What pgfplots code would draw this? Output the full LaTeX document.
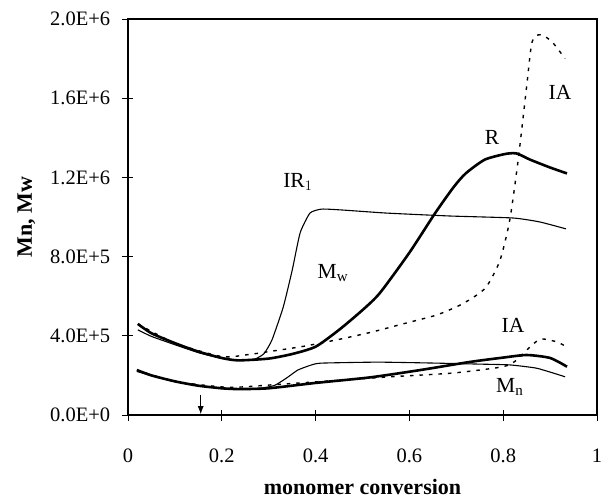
\documentclass[border=0pt]{standalone}
\usepackage{fontspec}
\setmainfont{Liberation Serif}
\usepackage{pgfplots}
\pgfplotsset{compat=1.18}
\usetikzlibrary{arrows.meta}

\begin{document}
\fontsize{21.5}{25}\selectfont
\begin{tikzpicture}[x=1pt,y=1pt]
\begin{axis}[
  at={(0,0)}, anchor=south west,
  scale only axis, width=469pt, height=396pt,
  xmin=0, xmax=1, ymin=0, ymax=2.0e6,
  axis line style={line width=1.3pt},
  xtick={0,0.2,0.4,0.6,0.8,1},
  xticklabels={0,0.2,0.4,0.6,0.8,1},
  ytick={0,4e5,8e5,1.2e6,1.6e6,2e6},
  yticklabels={0.0E+0,4.0E+5,8.0E+5,1.2E+6,1.6E+6,2.0E+6},
  scaled y ticks=false,
  tick align=center, major tick length=11pt,
  tick style={line width=0.8pt, black},
  xtick pos=bottom, ytick pos=left,
  /pgf/number format/assume math mode=true,
  every tick label/.append style={font=\fontsize{20.5}{24}\selectfont},
  xticklabel style={anchor=base, yshift=-42pt},
  yticklabel style={anchor=east, xshift=-5pt},
  xlabel={\textbf{monomer conversion}},
  ylabel={\textbf{Mn, Mw}},
  label style={font=\fontsize{22}{26}\selectfont},
  xlabel style={at={(axis description cs:0.5,0)}, anchor=base, yshift=-79pt},
  ylabel style={at={(axis description cs:0,0.5)}, anchor=base, yshift=96pt},
  clip=false,
]
% weight-average molar mass, R
\addplot[black, line width=2.6pt, smooth, tension=0.4] coordinates {
 (0.021,4.6e5) (0.05,4.13e5) (0.10,3.63e5) (0.15,3.2e5) (0.20,2.88e5)
 (0.235,2.76e5) (0.30,2.85e5) (0.35,3.08e5) (0.40,3.45e5) (0.45,4.3e5)
 (0.50,5.3e5) (0.537,6.16e5) (0.60,8.2e5) (0.655,1.02e6) (0.694,1.15e6)
 (0.72,1.22e6) (0.761,1.29e6) (0.808,1.32e6) (0.83,1.32e6) (0.857,1.29e6)
 (0.90,1.25e6) (0.936,1.22e6)};
% weight-average molar mass, IR1
\addplot[black, line width=1.1pt, smooth, tension=0.3] coordinates {
 (0.021,4.3e5) (0.05,3.97e5) (0.10,3.55e5) (0.15,3.15e5) (0.20,2.86e5)
 (0.235,2.76e5) (0.27,2.82e5) (0.29,3.1e5) (0.307,3.79e5) (0.331,5.45e5)
 (0.35,7.3e5) (0.367,9.2e5) (0.388,1.02e6) (0.413,1.04e6) (0.459,1.035e6)
 (0.55,1.02e6) (0.687,1.005e6) (0.821,0.995e6) (0.878,0.975e6) (0.934,0.94e6)};
% weight-average molar mass, IA
\addplot[black, line width=1.4pt, dash pattern=on 3.5pt off 6pt, smooth, tension=0.4] coordinates {
 (0.021,4.6e5) (0.10,3.63e5) (0.20,2.95e5) (0.256,3.05e5) (0.30,3.2e5)
 (0.377,3.48e5) (0.454,3.84e5) (0.52,4.19e5) (0.586,4.6e5) (0.658,5.05e5)
 (0.708,5.55e5) (0.74,6.0e5) (0.765,6.5e5) (0.793,7.8e5) (0.814,9.85e5)
 (0.832,1.29e6) (0.850,1.66e6) (0.861,1.88e6) (0.875,1.92e6) (0.89,1.91e6)
 (0.906,1.88e6) (0.932,1.80e6)};
% number-average molar mass, R
\addplot[black, line width=2.6pt, smooth, tension=0.4] coordinates {
 (0.019,2.27e5) (0.05,2.0e5) (0.10,1.7e5) (0.15,1.48e5) (0.20,1.35e5)
 (0.235,1.31e5) (0.30,1.35e5) (0.40,1.62e5) (0.516,1.9e5) (0.623,2.27e5)
 (0.729,2.68e5) (0.80,2.9e5) (0.85,3.03e5) (0.90,2.88e5) (0.936,2.44e5)};
% number-average molar mass, IR1
\addplot[black, line width=1.1pt, smooth, tension=0.3] coordinates {
 (0.019,2.2e5) (0.10,1.68e5) (0.20,1.33e5) (0.28,1.35e5) (0.313,1.5e5)
 (0.34,1.9e5) (0.362,2.27e5) (0.39,2.52e5) (0.412,2.62e5) (0.533,2.67e5)
 (0.658,2.62e5) (0.75,2.57e5) (0.814,2.53e5) (0.872,2.36e5) (0.932,1.93e5)};
% number-average molar mass, IA
\addplot[black, line width=1.4pt, dash pattern=on 3.5pt off 6pt, smooth, tension=0.4] coordinates {
 (0.019,2.27e5) (0.10,1.7e5) (0.213,1.4e5) (0.305,1.52e5) (0.398,1.67e5)
 (0.48,1.8e5) (0.559,1.93e5) (0.693,2.12e5) (0.80,2.44e5) (0.829,2.78e5)
 (0.85,3.28e5) (0.87,3.7e5) (0.885,3.84e5) (0.915,3.69e5) (0.932,3.48e5)};

% curve labels
\node at (axis cs:0.362,1.177e6) {IR$_{\fontsize{15}{17}\selectfont 1}$};
\node at (axis cs:0.437,0.717e6) {M$_{\fontsize{15}{17}\selectfont\mathrm{w}}$};
\node at (axis cs:0.776,1.40e6) {R};
\node at (axis cs:0.921,1.63e6) {IA};
\node at (axis cs:0.821,4.55e5) {IA};
\node at (axis cs:0.814,1.41e5) {M$_{\fontsize{15}{17}\selectfont\mathrm{n}}$};
% marker arrow on the conversion axis
\draw[-{Latex[length=8pt,width=6pt]}, line width=1pt] (axis cs:0.155,1.02e5) -- (axis cs:0.155,0.04e5);
\end{axis}
\pgfresetboundingbox
\path (-128pt,-84pt) rectangle (474pt,415pt);
\end{tikzpicture}
\end{document}
